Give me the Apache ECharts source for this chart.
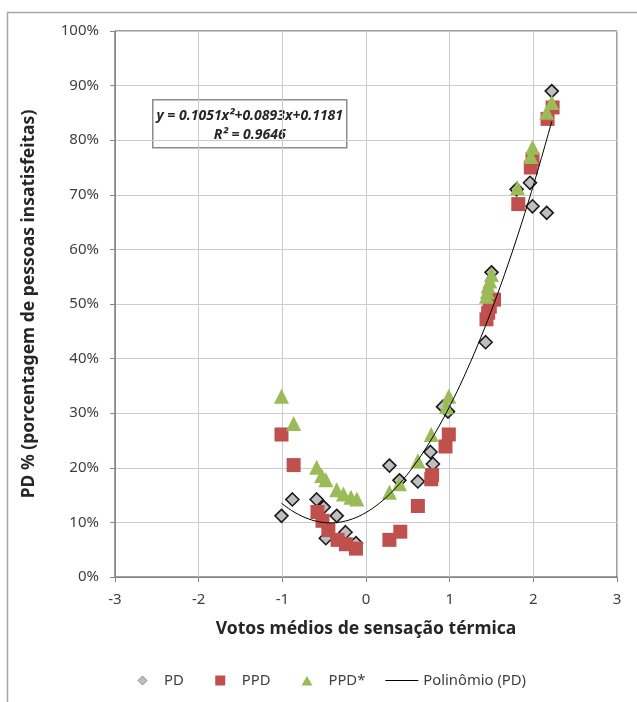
<!DOCTYPE html>
<html>
<head>
<meta charset="utf-8">
<script src="https://cdn.jsdelivr.net/npm/echarts@6/dist/echarts.min.js"></script>
<style>
html,body{margin:0;padding:0;background:#fff;}
#c{width:637px;height:702px;}
</style>
</head>
<body>
<div id="c"></div>
<script>
// ---- data ----
const pdX = [-1.01, -0.88, -0.59, -0.505, -0.35, -0.48, -0.245, -0.12, 0.28, 0.40, 0.62, 0.77, 0.80, 0.92, 0.98, 1.43, 1.50, 1.80, 1.96, 1.99, 2.16, 2.22];
const pdY = [11.2, 14.2, 14.2, 12.8, 11.2, 7.1, 8.2, 6.2, 20.4, 17.7, 17.5, 22.9, 20.7, 31.2, 30.3, 43.0, 55.8, 71.0, 72.2, 67.9, 66.7, 89.0];

const ppdX = [-1.01, -0.865, -0.58, -0.52, -0.45, -0.34, -0.24, -0.12, 0.28, 0.41, 0.62, 0.78, 0.79, 0.95, 0.99, 1.44, 1.46, 1.48, 1.53, 1.82, 1.97, 1.99, 2.17, 2.23];
const ppdY = [26.1, 20.5, 11.9, 10.3, 8.6, 6.8, 6.0, 5.2, 6.8, 8.3, 13.0, 17.9, 18.7, 23.9, 26.1, 47.2, 48.4, 49.5, 50.8, 68.3, 75.0, 76.5, 83.9, 86.0];

const ppdStarX = [-1.01, -0.865, -0.59, -0.53, -0.48, -0.35, -0.27, -0.18, -0.11, 0.28, 0.40, 0.62, 0.78, 0.96, 0.99, 1.44, 1.45, 1.46, 1.48, 1.50, 1.81, 1.97, 1.99, 2.16, 2.22];
const ppdStarY = [33.1, 28.1, 20.1, 18.6, 17.8, 16.0, 15.2, 14.6, 14.3, 15.5, 17.1, 21.3, 26.1, 31.2, 33.1, 51.4, 52.3, 53.3, 54.2, 55.4, 71.3, 77.0, 78.7, 85.1, 86.9];

// trendline coefficients as printed on the chart: y = a x^2 + b x + c
const polyCoef = [0.1051, 0.0893, 0.1181];
const r2Text = 'R² = 0.9646';
const eqText = 'y = 0.1051x²+0.0893x+0.1181';

const xTicks = [-3, -2, -1, 0, 1, 2, 3];
const yTicks = [0, 10, 20, 30, 40, 50, 60, 70, 80, 90, 100];

const seriesNames = ['PD', 'PPD', 'PPD*', 'Polinômio (PD)'];
const xTitle = 'Votos médios de sensação térmica';
const yTitle = 'PD % (porcentagem de pessoas insatisfeitas)';

// ---- build ----
const zip = (xs, ys) => xs.map((x, i) => [x, ys[i]]);
const xMin = Math.min(...pdX), xMax = Math.max(...pdX);
const trend = [];
const steps = 80;
for (let i = 0; i <= steps; i++) {
  const x = xMin + (xMax - xMin) * i / steps;
  trend.push([x, 100 * (polyCoef[0] * x * x + polyCoef[1] * x + polyCoef[2])]);
}

// legend icons drawn in a 33x10 box (corner anchors keep the glyph centred)
const BOX = 'M0,0 L0,0 M33,10 L33,10 ';
const iconDiamond = 'path://' + BOX + 'M16.5,0.5 L21,5 L16.5,9.5 L12,5 Z';
const iconSquare = 'path://' + BOX + 'M11.5,0 L21.5,0 L21.5,10 L11.5,10 Z';
const iconTriangle = 'path://' + BOX + 'M16.5,0.5 L22,10 L11,10 Z';
const iconLine = 'path://' + BOX + 'M0,4.5 L33,4.5 L33,5.5 L0,5.5 Z';

const FONT = 'Noto Sans';
const chart = echarts.init(document.getElementById('c'), null, {renderer: 'canvas'});
chart.setOption({
  animation: false,
  backgroundColor: '#ffffff',
  grid: {left: 115, top: 31, right: 20, bottom: 125, show: true, borderColor: '#404040', borderWidth: 1, backgroundColor: 'transparent'},
  xAxis: {
    type: 'value', min: xTicks[0], max: xTicks[xTicks.length - 1], interval: 1,
    name: xTitle, nameLocation: 'middle', nameGap: 43,
    nameTextStyle: {fontFamily: FONT, fontSize: 17.5, fontWeight: 'bold', color: '#262626'},
    axisLine: {show: true, onZero: false, lineStyle: {color: '#868686', width: 1}},
    axisTick: {show: true, length: 5, lineStyle: {color: '#868686'}},
    splitLine: {show: true, lineStyle: {color: '#cccccc', width: 1}},
    axisLabel: {fontFamily: FONT, fontSize: 15, color: '#404040', margin: 15}
  },
  yAxis: {
    type: 'value', min: yTicks[0], max: yTicks[yTicks.length - 1], interval: 10,
    name: yTitle, nameLocation: 'middle', nameGap: 77, nameRotate: 90,
    nameTextStyle: {fontFamily: FONT, fontSize: 17.5, fontWeight: 'bold', color: '#262626'},
    axisLine: {show: true, onZero: false, lineStyle: {color: '#868686', width: 1}},
    axisTick: {show: true, length: 5, lineStyle: {color: '#868686'}},
    splitLine: {show: true, lineStyle: {color: '#cccccc', width: 1}},
    axisLabel: {fontFamily: FONT, fontSize: 15, color: '#404040', margin: 16, formatter: '{value}%'}
  },
  legend: {
    left: 125.5, top: 673, padding: 0, itemWidth: 33, itemHeight: 10, itemGap: 20, symbolKeepAspect: false,
    textStyle: {fontFamily: FONT, fontSize: 14.8, color: '#404040'},
    data: [
      {name: seriesNames[0], icon: iconDiamond, itemStyle: {color: '#bfbfbf', borderColor: '#8c8c8c', borderWidth: 1}},
      {name: seriesNames[1], icon: iconSquare},
      {name: seriesNames[2], icon: iconTriangle},
      {name: seriesNames[3], icon: iconLine, itemStyle: {color: '#000000'}}
    ]
  },
  series: [
    {
      name: seriesNames[0], type: 'scatter', data: zip(pdX, pdY), symbol: 'diamond', symbolSize: 13, z: 2,
      itemStyle: {color: '#bfbfbf', borderColor: '#1a1a1a', borderWidth: 1.6, opacity: 1}
    },
    {
      name: seriesNames[1], type: 'scatter', data: zip(ppdX, ppdY), symbol: 'rect', symbolSize: 14, z: 3,
      itemStyle: {color: '#c0504d', opacity: 1}
    },
    {
      name: seriesNames[2], type: 'scatter', data: zip(ppdStarX, ppdStarY), symbol: 'triangle', symbolSize: 15, z: 4,
      itemStyle: {color: '#9bbb59', opacity: 1}
    },
    {
      name: seriesNames[3], type: 'line', data: trend, showSymbol: false, symbol: 'none', z: 5, silent: true,
      lineStyle: {color: '#000000', width: 1}, itemStyle: {color: '#000000'}
    }
  ],
  graphic: [
    {
      type: 'rect', z: 100, silent: true,
      shape: {x: 7.5, y: 12.5, width: 700, height: 800},
      style: {fill: 'none', stroke: '#a6a6a6', lineWidth: 1.5}
    },
    {
      type: 'group', left: 152, top: 99, z: 100,
      children: [
        {type: 'rect', shape: {x: 0, y: 0, width: 194, height: 48}, style: {fill: '#ffffff', stroke: '#8c8c8c', lineWidth: 1.5}},
        {type: 'text', x: 97, y: 16, style: {text: eqText, fontFamily: FONT, fontSize: 14, fontWeight: 'bold', fontStyle: 'italic', fill: '#262626', align: 'center', verticalAlign: 'middle'}},
        {type: 'text', x: 97, y: 35, style: {text: r2Text, fontFamily: FONT, fontSize: 14, fontWeight: 'bold', fontStyle: 'italic', fill: '#262626', align: 'center', verticalAlign: 'middle'}}
      ]
    }
  ]
});
</script>
</body>
</html>
